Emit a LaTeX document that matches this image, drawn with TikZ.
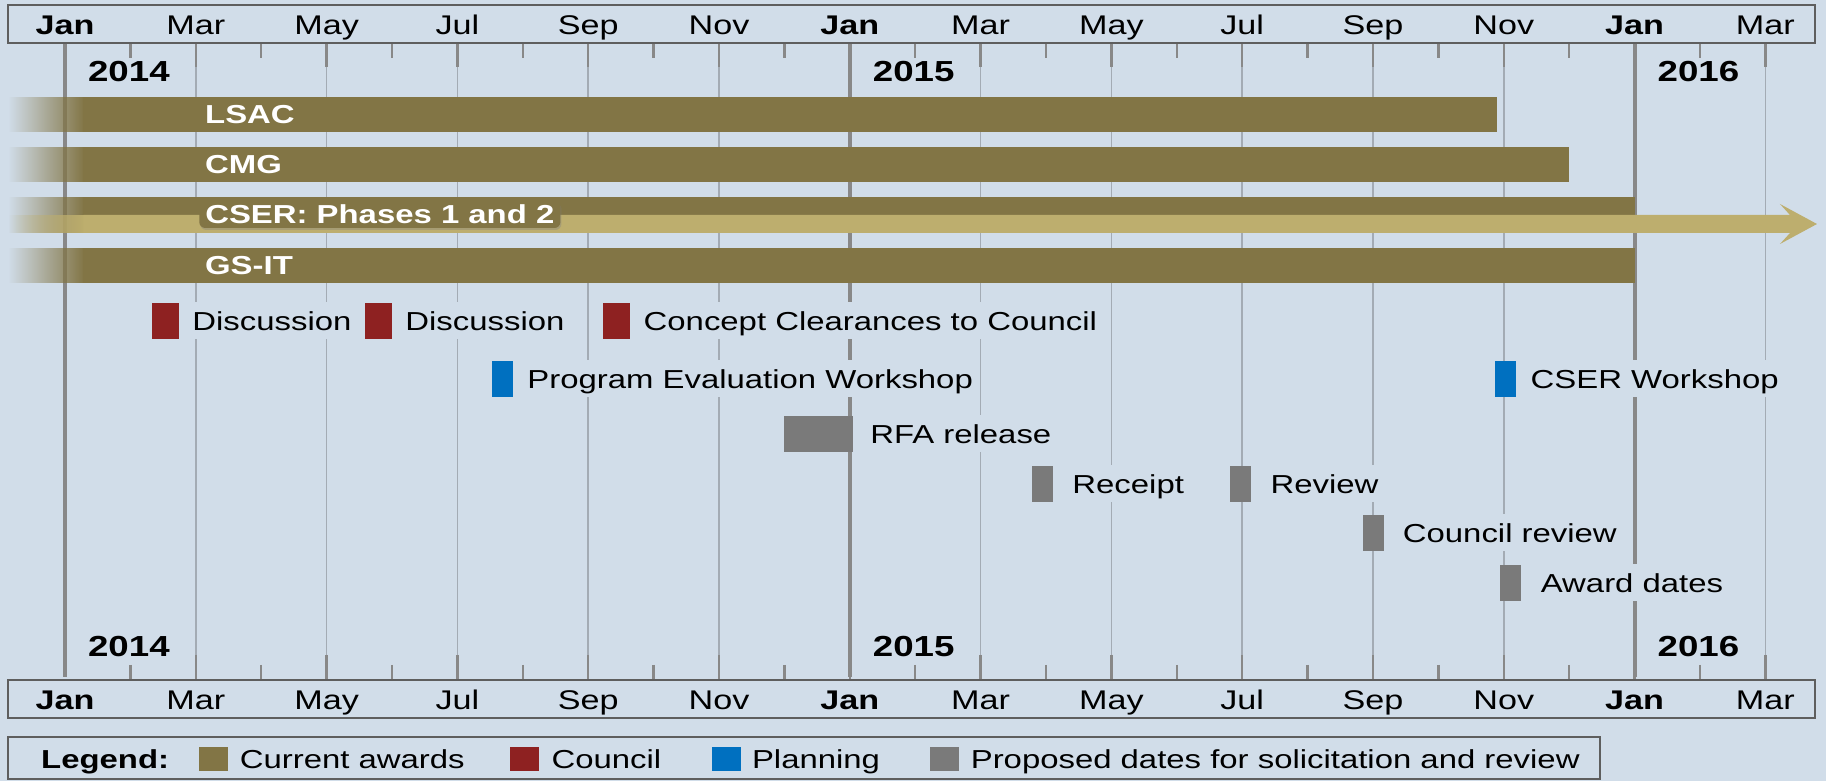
\documentclass[tikz,border=0pt]{standalone}
\usepackage{fontspec}
\setmainfont{Liberation Sans}[FakeStretch=1.265]
\usetikzlibrary{positioning,shadows,fadings}
\definecolor{sky}{HTML}{D1DDE9}
\definecolor{award}{HTML}{827545}
\definecolor{awardlt}{HTML}{BDAE6E}
\definecolor{council}{HTML}{8E2121}
\definecolor{plan}{HTML}{0070C0}
\definecolor{soli}{HTML}{7A7A7A}
\definecolor{framec}{HTML}{5E5E5E}
\definecolor{gridc}{HTML}{A3ABB4}
\definecolor{janc}{HTML}{888888}
\newcommand{\txt}{\fontsize{26}{30}\selectfont}
\newcommand{\mon}{\fontsize{27}{32}\selectfont}
\tikzfading[name=fade in, left color=transparent!100, right color=transparent!0]
\tikzset{
  scalebox/.style={draw=framec, line width=2.5pt, fill=sky},
  evt/.style={inner sep=0pt, minimum width=21pt, minimum height=36pt},
  evtlbl/.style={font=\txt, fill=sky, inner xsep=3pt, inner ysep=9pt, text height=19pt, text depth=0pt},
  barlbl/.style={font=\txt\bfseries, text=white, anchor=west, inner sep=0pt, text height=19pt, text depth=0pt},
  keybox/.style={inner sep=0pt, minimum width=29pt, minimum height=24pt},
  keylbl/.style={font=\txt, inner sep=0pt, text height=19pt, text depth=0pt}
}

\begin{document}
\begin{tikzpicture}[x=65.4pt, y=-1pt]
\useasboundingbox (-0.994,0) rectangle (26.927,781);
\fill[sky] (-0.994,0) rectangle (26.927,781);

% month grid: lines on odd months, short ticks in between, heavy line at each January
\foreach \m in {2,4,...,26}{
  \draw[gridc, line width=1.5pt] (\m,43) -- (\m,680);
  \draw[janc, line width=2.5pt] (\m,43) -- (\m,67) (\m,655) -- (\m,680);
}
\foreach \m in {1,3,...,25}
  \draw[janc, line width=2.5pt] (\m,43) -- (\m,58) (\m,665) -- (\m,680);
\foreach \m in {0,12,24}
  \draw[janc, line width=4pt] (\m,43) -- (\m,677);

% top and bottom month scales
\draw[scalebox] (-0.872,5) rectangle (26.758,43);
\draw[scalebox] (-0.872,680) rectangle (26.758,718);
\foreach \m/\name in {2/Mar,4/May,6/Jul,8/Sep,10/Nov,14/Mar,16/May,18/Jul,20/Sep,22/Nov,26/Mar}{
  \node[font=\mon, anchor=base] (up\m) at (\m,35) {\name};
  \node[font=\mon, anchor=base] (dn\m) at (\m,710) {\name};
}
\foreach \m/\yr in {0/2014,12/2015,24/2016}{
  \node[font=\mon\bfseries, anchor=base] (upj\m) at (\m,35) {Jan};
  \node[font=\mon\bfseries, anchor=base] (dnj\m) at (\m,710) {Jan};
  \node[font=\fontsize{29}{34}\selectfont\bfseries, anchor=base west, inner sep=0pt] (yu\m) at (\m+0.35,82) {\yr};
  \node[font=\fontsize{29}{34}\selectfont\bfseries, anchor=base west, inner sep=0pt] (yd\m) at (\m+0.35,657) {\yr};
}

% current awards
\foreach \y/\e/\n/\t in {97/21.9/lsac/LSAC, 147/23/cmg/CMG, 248/24/gsit/GS-IT}{
  \fill[award, path fading=fade in] (-0.87,\y) rectangle (0.3,\y+35);
  \fill[award] (0.28,\y) rectangle (\e,\y+35);
  \node[barlbl] (\n) at (2.14,\y+17.5) {\t};
}
\fill[award, path fading=fade in] (-0.87,197) rectangle (0.3,233);
\fill[award] (0.28,197) rectangle (24,233);
\fill[awardlt, path fading=fade in] (-0.87,215) rectangle (0.3,233);
\fill[awardlt] (0.28,215) -- (26.376,215) -- (26.223,204) -- (26.789,224)
  -- (26.223,244) -- (26.376,233) -- (0.28,233) -- cycle;
\node[barlbl, fill=award, rounded corners=6pt, inner xsep=6pt, inner ysep=4pt,
  drop shadow={opacity=0.35, shadow xshift=1pt, shadow yshift=-2pt}] (cser) at (2.05,214.5) {CSER: Phases 1 and 2};

% council
\node[evt, fill=council, minimum width=27pt] (dis1) at (1.537,321) {};
\node[evtlbl, right=10pt of dis1] (dis1l) {Discussion};
\node[evt, fill=council, minimum width=27pt] (dis2) at (4.794,321) {};
\node[evtlbl, right=10pt of dis2] (dis2l) {Discussion};
\node[evt, fill=council, minimum width=27pt] (cc) at (8.437,321) {};
\node[evtlbl, right=10pt of cc] (ccl) {Concept Clearances to Council};

% planning
\node[evt, fill=plan] (pew) at (6.69,379) {};
\node[evtlbl, right=11pt of pew] (pewl) {Program Evaluation Workshop};
\node[evt, fill=plan] (csw) at (22.03,379) {};
\node[evtlbl, right=11pt of csw] (cswl) {CSER Workshop};

% solicitation and review
\node[evt, fill=soli, minimum width=69pt] (rfa) at (11.52,434) {};
\node[evtlbl, right=14pt of rfa] (rfal) {RFA release};
\node[evt, fill=soli] (rec) at (14.947,484) {};
\node[evtlbl, right=16pt of rec] (recl) {Receipt};
\node[evt, fill=soli] (rev) at (17.978,484) {};
\node[evtlbl, right=16pt of rev] (revl) {Review};
\node[evt, fill=soli] (crv) at (20.0,533) {};
\node[evtlbl, right=16pt of crv] (crvl) {Council review};
\node[evt, fill=soli] (awd) at (22.11,583) {};
\node[evtlbl, right=16pt of awd] (awdl) {Award dates};

% legend
\draw[scalebox] (-0.872,737) rectangle (23.471,779);
\node[keylbl, font=\txt\bfseries, anchor=west] (lgd) at (-0.367,759) {Legend:};
\node[keybox, fill=award, right=29pt of lgd] (k1) {};
\node[keylbl, right=12pt of k1] (k1l) {Current awards};
\node[keybox, fill=council, right=45pt of k1l] (k2) {};
\node[keylbl, right=12pt of k2] (k2l) {Council};
\node[keybox, fill=plan, right=50pt of k2l] (k3) {};
\node[keylbl, right=11pt of k3] (k3l) {Planning};
\node[keybox, fill=soli, right=50pt of k3l] (k4) {};
\node[keylbl, right=11pt of k4] (k4l) {Proposed dates for solicitation and review};
\end{tikzpicture}
\end{document}
